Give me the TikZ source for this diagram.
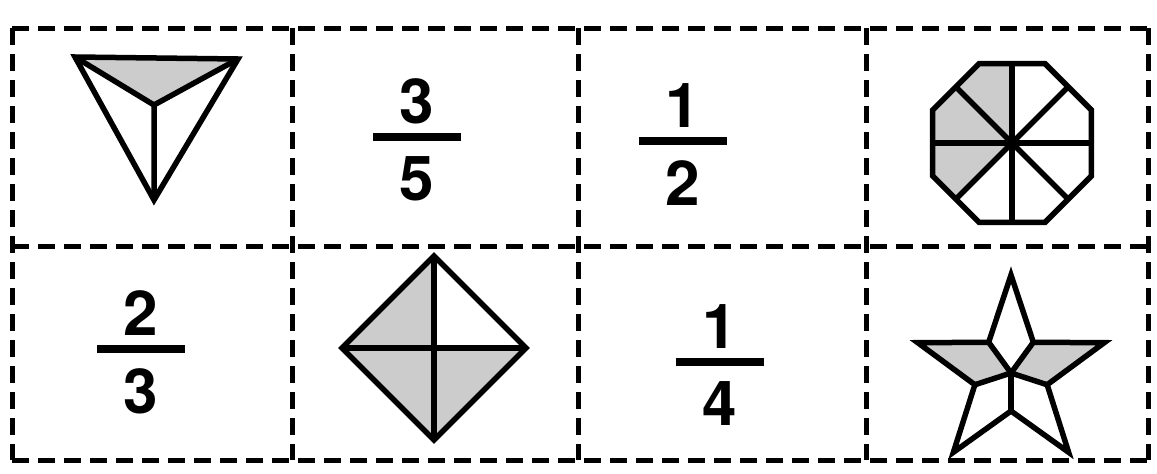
\documentclass[tikz,border=0pt]{standalone}
\usepackage{fontspec}
\setmainfont{TeX Gyre Heros}
\usepackage{tikz}
\usetikzlibrary{calc}
\tikzset{
  cutln/.style={line width=5pt,dash pattern=on 17pt off 9pt},
  shp/.style={line width=5.5pt,line join=miter},
  shd/.style={fill=black!20},
  fracbar/.style={line width=7.5pt},
  digit/.style={font=\fontsize{62}{64}\selectfont\bfseries,inner sep=0pt},
}
\begin{document}
\begin{tikzpicture}[x=1pt,y=-1pt]
  \useasboundingbox (0,0) rectangle (1157,474);
  % cutting grid
  \foreach \y in {28,246,460}
    \draw[cutln] (12,\y) -- (1148,\y);
  \foreach \x in {12,292,578,866,1148}
    \draw[cutln] (\x,28) -- (\x,460);
  % fraction cards
  \foreach \x/\y/\n/\d [count=\i] in {417/137/3/5, 683/141/1/2, 141/349/2/3, 720/362/1/4}{
    \draw[fracbar] (\x-44,\y) -- (\x+44,\y);
    \node[digit,anchor=base] (num\i) at (\x,\y-14) {\n};
    \node[digit,anchor=north] (den\i) at (\x,\y+19) {\d};
  }
  % triangle, one third shaded
  \coordinate (tri) at (154,105);
  \coordinate (ta) at (75,57);
  \coordinate (tb) at (238,59);
  \coordinate (tc) at (154,200);
  \fill[shd] (ta) -- (tb) -- (tri) -- cycle;
  \draw[shp] (ta) -- (tb) -- (tc) -- cycle;
  \draw[shp] (ta) -- (tri) -- (tb) (tri) -- (tc);
  % octagon, three eighths shaded
  \begin{scope}[shift={(1012,143)},yscale=-1]
    \fill[shd] (0,0) -- (90:79.5) -- (112.5:86) -- (135:79.5) -- (157.5:86)
      -- (180:79.5) -- (202.5:86) -- (225:79.5) -- cycle;
    \draw[shp] (22.5:86) \foreach \a in {67.5,112.5,...,337.5}{ -- (\a:86)} -- cycle;
    \foreach \a in {0,45,...,315}
      \draw[shp] (0,0) -- (\a:79.5);
  \end{scope}
  % diamond, three quarters shaded
  \begin{scope}[shift={(434,348)}]
    \fill[shd] (0,0) -- (-92,0) -- (0,-92) -- cycle;
    \fill[shd] (0,0) -- (-92,0) -- (0,92) -- (92,0) -- cycle;
    \draw[shp] (0,-92) -- (92,0) -- (0,92) -- (-92,0) -- cycle;
    \draw[shp] (0,-92) -- (0,92) (-92,0) -- (92,0);
  \end{scope}
  % star, two fifths shaded
  \begin{scope}[shift={(1011,373)},yscale=-1]
    \fill[shd] (0,0) -- (126:38) -- (162:98) -- (198:38) -- cycle;
    \fill[shd] (0,0) -- (54:38) -- (18:98) -- (-18:38) -- cycle;
    \draw[shp] (90:98) \foreach \k in {0,...,4}{ -- (126+72*\k:38) -- (162+72*\k:98)} -- cycle;
    \foreach \k in {0,...,4}
      \draw[shp] (0,0) -- (126+72*\k:38);
  \end{scope}
\end{tikzpicture}
\end{document}
